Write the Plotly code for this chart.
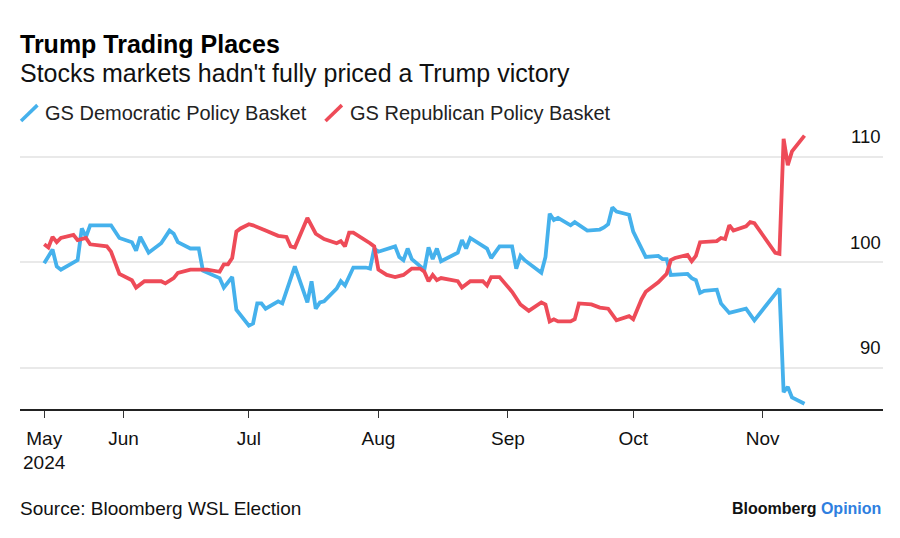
import plotly.graph_objects as go

# ---- data ----
dem_dates = ["2024-05-13","2024-05-15","2024-05-16","2024-05-17","2024-05-21","2024-05-22","2024-05-23","2024-05-24",
             "2024-05-29","2024-05-31","2024-06-03","2024-06-04","2024-06-05","2024-06-07","2024-06-10","2024-06-12",
             "2024-06-13","2024-06-14","2024-06-17","2024-06-19","2024-06-20","2024-06-24","2024-06-25","2024-06-27",
             "2024-06-28","2024-07-01","2024-07-02","2024-07-03","2024-07-04","2024-07-05","2024-07-08","2024-07-09",
             "2024-07-12","2024-07-15","2024-07-16","2024-07-17","2024-07-18","2024-07-19","2024-07-22","2024-07-23",
             "2024-07-24","2024-07-26","2024-07-29","2024-07-30","2024-07-31","2024-08-01","2024-08-05","2024-08-06",
             "2024-08-07","2024-08-08","2024-08-09","2024-08-12","2024-08-13","2024-08-14","2024-08-15","2024-08-16",
             "2024-08-20","2024-08-21","2024-08-22","2024-08-23","2024-08-27","2024-08-28","2024-08-30","2024-09-02",
             "2024-09-03","2024-09-04","2024-09-05","2024-09-09","2024-09-10","2024-09-11","2024-09-12","2024-09-13",
             "2024-09-16","2024-09-17","2024-09-20","2024-09-23","2024-09-24","2024-09-25","2024-09-26","2024-09-27",
             "2024-09-30","2024-10-01","2024-10-02","2024-10-04","2024-10-07","2024-10-08","2024-10-09","2024-10-10",
             "2024-10-14","2024-10-15","2024-10-16","2024-10-17","2024-10-18","2024-10-21","2024-10-22","2024-10-24",
             "2024-10-28","2024-10-30","2024-11-05","2024-11-06","2024-11-07","2024-11-08","2024-11-11"]
dem_values = [99.9,101.2,99.6,99.3,100.2,103.2,102.4,103.5,
              103.5,102.3,101.9,101.1,102.4,100.9,101.8,103.0,
              102.7,101.9,101.3,101.3,99.2,98.5,97.6,98.6,
              95.5,94.0,94.2,96.1,96.1,95.6,96.3,96.1,
              99.6,96.2,98.2,95.6,96.2,96.3,97.5,98.2,
              97.8,99.5,99.5,99.4,101.3,101.0,101.5,100.5,
              100.2,101.3,100.3,99.3,101.4,100.3,101.3,100.1,
              100.9,102.1,101.3,102.3,101.3,100.4,101.5,101.5,
              99.4,100.6,100.2,99.0,100.5,104.6,104.0,104.2,
              103.5,103.8,103.0,103.1,103.3,103.6,105.2,104.8,
              104.5,102.9,102.1,100.5,100.6,100.3,100.3,98.8,
              98.9,98.5,98.3,97.1,97.3,97.4,96.1,95.2,
              95.6,94.5,97.5,87.7,88.2,87.2,86.6]

rep_dates = ["2024-05-13","2024-05-14","2024-05-15","2024-05-16","2024-05-17","2024-05-20","2024-05-21","2024-05-23",
             "2024-05-24","2024-05-28","2024-05-29","2024-05-31","2024-06-03","2024-06-04","2024-06-06","2024-06-10",
             "2024-06-11","2024-06-13","2024-06-14","2024-06-17","2024-06-21","2024-06-24","2024-06-25","2024-06-26",
             "2024-06-27","2024-06-28","2024-06-29","2024-07-01","2024-07-02","2024-07-03","2024-07-04","2024-07-05",
             "2024-07-08","2024-07-10","2024-07-11","2024-07-12","2024-07-15","2024-07-17","2024-07-19","2024-07-22",
             "2024-07-23","2024-07-24","2024-07-25","2024-07-26","2024-07-30","2024-07-31","2024-08-01","2024-08-03",
             "2024-08-05","2024-08-07","2024-08-09","2024-08-11","2024-08-12","2024-08-13","2024-08-14","2024-08-15",
             "2024-08-16","2024-08-20","2024-08-21","2024-08-23","2024-08-26","2024-08-27","2024-08-28","2024-08-30",
             "2024-09-02","2024-09-04","2024-09-06","2024-09-09","2024-09-10","2024-09-11","2024-09-12","2024-09-13",
             "2024-09-16","2024-09-17","2024-09-18","2024-09-21","2024-09-23","2024-09-25","2024-09-27","2024-09-30",
             "2024-10-01","2024-10-03","2024-10-04","2024-10-07","2024-10-09","2024-10-10","2024-10-11","2024-10-14",
             "2024-10-15","2024-10-16","2024-10-17","2024-10-21","2024-10-22","2024-10-23","2024-10-24","2024-10-25",
             "2024-10-28","2024-10-29","2024-10-30","2024-11-04","2024-11-05","2024-11-06","2024-11-07","2024-11-08",
             "2024-11-11"]
rep_values = [101.7,101.4,102.4,101.9,102.3,102.6,102.1,102.3,
              101.7,101.5,101.0,98.9,98.3,97.6,98.2,98.2,
              98.0,98.5,99.0,99.3,99.3,99.1,99.8,99.8,
              100.4,102.9,103.2,103.6,103.5,103.3,103.2,103.0,
              102.5,102.4,101.5,101.4,104.2,102.7,102.2,101.8,
              102.0,101.5,102.8,102.8,101.8,101.5,99.3,98.8,
              98.6,98.8,99.4,99.4,99.1,98.2,98.8,98.3,
              98.5,98.2,97.6,98.2,98.2,97.8,98.6,98.6,
              97.2,96.0,95.4,96.2,96.0,94.4,94.6,94.4,
              94.4,94.6,96.1,96.0,95.7,95.6,94.5,94.9,
              94.6,96.5,97.2,98.1,98.9,100.2,100.4,100.7,
              100.1,100.6,101.9,102.0,102.3,102.2,103.5,103.0,
              103.4,103.8,103.7,100.9,100.8,111.7,109.2,110.5,
              112.0]

x_tick_vals = ["2024-05-13","2024-06-01","2024-07-01","2024-08-01","2024-09-01","2024-10-01","2024-11-01"]
x_tick_text = ["May<br>2024","Jun","Jul","Aug","Sep","Oct","Nov"]
y_tick_vals = [90, 100, 110]

series_names = ["GS Democratic Policy Basket", "GS Republican Policy Basket"]
BLUE = "#45b1ec"
RED = "#ee4b58"
FONT = "Liberation Sans, Arial, sans-serif"

fig = go.Figure()
fig.add_trace(go.Scatter(x=dem_dates, y=dem_values, mode="lines", name=series_names[0],
                         line=dict(color=BLUE, width=3.8), showlegend=False))
fig.add_trace(go.Scatter(x=rep_dates, y=rep_values, mode="lines", name=series_names[1],
                         line=dict(color=RED, width=3.8), showlegend=False))

fig.update_layout(
    width=900, height=538,
    margin=dict(l=20, r=17, t=125, b=129),
    paper_bgcolor="white", plot_bgcolor="white",
    font=dict(family=FONT, color="#111111", size=18),
    xaxis=dict(
        type="date",
        range=["2024-05-07 05:00", "2024-11-29 19:00"],
        tickmode="array", tickvals=x_tick_vals, ticktext=x_tick_text,
        showgrid=False, zeroline=False,
        showline=True, linecolor="#222222", linewidth=1.5,
        ticks="outside", ticklen=7, tickwidth=1.2, tickcolor="#333333",
        ticklabelstandoff=4,
        tickfont=dict(size=19, color="#111111", family=FONT),
    ),
    yaxis=dict(
        range=[86.1, 113],
        tickmode="array", tickvals=y_tick_vals,
        showticklabels=False, showgrid=True, gridcolor="#e9e9e9", gridwidth=1.5,
        zeroline=False, showline=False, ticks="",
    ),
)

annotations = [
    dict(text="<b>Trump Trading Places</b>", x=-0.0023, y=1.285, xref="paper", yref="paper",
         xanchor="left", yanchor="middle", showarrow=False, font=dict(size=25, color="#000000")),
    dict(text="Stocks markets hadn't fully priced a Trump victory", x=-0.0023, y=1.183, xref="paper", yref="paper",
         xanchor="left", yanchor="middle", showarrow=False, font=dict(size=25, color="#111111")),
    dict(text=series_names[0], x=0.027, y=1.042, xref="paper", yref="paper",
         xanchor="left", yanchor="middle", showarrow=False, font=dict(size=20, color="#222222")),
    dict(text=series_names[1], x=0.3795, y=1.042, xref="paper", yref="paper",
         xanchor="left", yanchor="middle", showarrow=False, font=dict(size=20, color="#222222")),
    dict(text="Source: Bloomberg WSL Election", x=-0.0023, y=-0.352, xref="paper", yref="paper",
         xanchor="left", yanchor="middle", showarrow=False, font=dict(size=19, color="#111111")),
    dict(text="<b>Bloomberg</b> <b><span style='color:#2f7fe0'>Opinion</span></b>", x=1.0, y=-0.349,
         xref="paper", yref="paper", xanchor="right", yanchor="middle", showarrow=False,
         font=dict(size=16, color="#111111")),
]
for v in y_tick_vals:
    annotations.append(dict(text=str(v), x=1.0, y=v, xref="paper", yref="y", xanchor="right",
                            yanchor="middle", yshift=20, showarrow=False,
                            font=dict(size=18.5, color="#111111")))
fig.update_layout(annotations=annotations)

# legend icons (slashes)
for x0, color in [(0.0012, BLUE), (0.354, RED)]:
    fig.add_shape(type="line", xref="paper", yref="paper", x0=x0, y0=1.014, x1=x0 + 0.019, y1=1.070,
                  line=dict(color=color, width=3.5))

fig.write_html("out.html", config={"displayModeBar": False},
               post_script="document.body.style.margin='0';")
